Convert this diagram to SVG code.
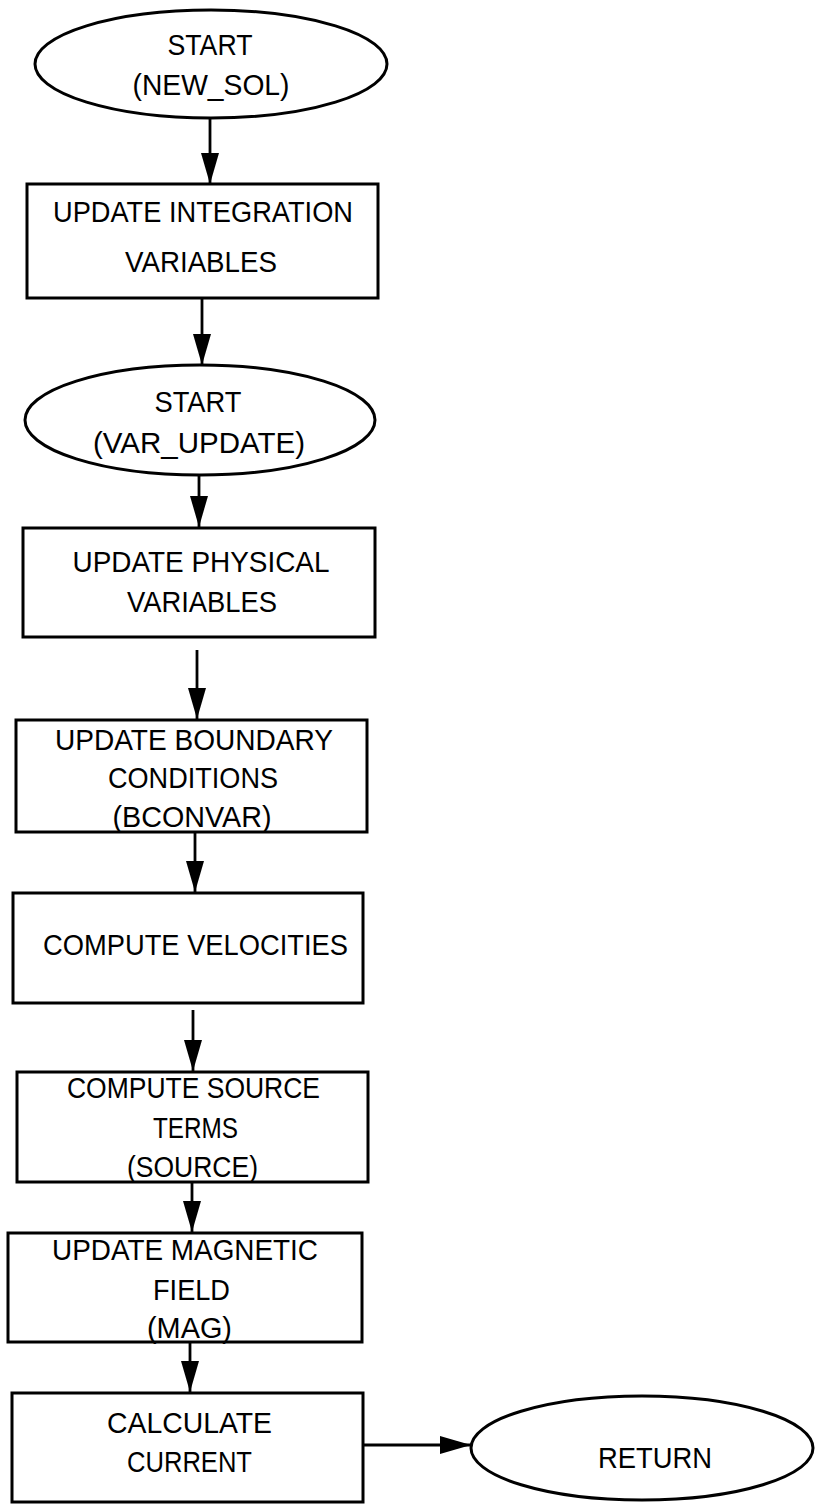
<svg xmlns="http://www.w3.org/2000/svg" width="815" height="1504" viewBox="0 0 815 1504">
<style>
.shape{fill:#fff;stroke:#000;stroke-width:3}
.lbl{font-family:"Liberation Sans",Arial,sans-serif;font-size:30px;fill:#000;text-anchor:middle}
.conn{stroke:#000;stroke-width:2.8;fill:none;marker-end:url(#ah)}
</style>
<defs>
<marker id="ah" markerUnits="userSpaceOnUse" markerWidth="32" markerHeight="20" refX="31" refY="9" orient="auto" viewBox="0 0 32 18">
<path d="M0,0 L31,9 L0,18 z" fill="#000"/>
</marker>
</defs>
<rect width="815" height="1504" fill="#fff"/>
<g id="n1">
<ellipse class="shape" cx="211" cy="64" rx="176" ry="54"/>
<text class="lbl" x="210" y="55" textLength="85" lengthAdjust="spacingAndGlyphs">START</text>
<text class="lbl" x="211" y="95" textLength="157" lengthAdjust="spacingAndGlyphs">(NEW_SOL)</text>
</g>
<g id="n2">
<rect class="shape" x="27" y="184" width="351" height="114"/>
<text class="lbl" x="203" y="222" textLength="300" lengthAdjust="spacingAndGlyphs">UPDATE INTEGRATION</text>
<text class="lbl" x="201" y="272" textLength="152" lengthAdjust="spacingAndGlyphs">VARIABLES</text>
</g>
<g id="n3">
<ellipse class="shape" cx="200" cy="420" rx="175" ry="55"/>
<text class="lbl" x="198" y="412" textLength="87" lengthAdjust="spacingAndGlyphs">START</text>
<text class="lbl" x="199" y="453" textLength="212" lengthAdjust="spacingAndGlyphs">(VAR_UPDATE)</text>
</g>
<g id="n4">
<rect class="shape" x="23" y="528" width="352" height="109"/>
<text class="lbl" x="201" y="572" textLength="257" lengthAdjust="spacingAndGlyphs">UPDATE PHYSICAL</text>
<text class="lbl" x="202" y="612" textLength="150" lengthAdjust="spacingAndGlyphs">VARIABLES</text>
</g>
<g id="n5">
<rect class="shape" x="16" y="720" width="351" height="112"/>
<text class="lbl" x="194" y="750" textLength="278" lengthAdjust="spacingAndGlyphs">UPDATE BOUNDARY</text>
<text class="lbl" x="193" y="788" textLength="170" lengthAdjust="spacingAndGlyphs">CONDITIONS</text>
<text class="lbl" x="192" y="827" textLength="159" lengthAdjust="spacingAndGlyphs">(BCONVAR)</text>
</g>
<g id="n6">
<rect class="shape" x="13" y="893" width="350" height="110"/>
<text class="lbl" x="195.5" y="955" textLength="305" lengthAdjust="spacingAndGlyphs">COMPUTE VELOCITIES</text>
</g>
<g id="n7">
<rect class="shape" x="17" y="1072" width="351" height="110"/>
<text class="lbl" x="193.5" y="1098" textLength="253" lengthAdjust="spacingAndGlyphs">COMPUTE SOURCE</text>
<text class="lbl" x="195.5" y="1138" textLength="85" lengthAdjust="spacingAndGlyphs">TERMS</text>
<text class="lbl" x="192.5" y="1177" textLength="131" lengthAdjust="spacingAndGlyphs">(SOURCE)</text>
</g>
<g id="n8">
<rect class="shape" x="8" y="1233" width="354" height="109"/>
<text class="lbl" x="185" y="1260" textLength="266" lengthAdjust="spacingAndGlyphs">UPDATE MAGNETIC</text>
<text class="lbl" x="191.5" y="1300" textLength="77" lengthAdjust="spacingAndGlyphs">FIELD</text>
<text class="lbl" x="189.5" y="1338" textLength="85" lengthAdjust="spacingAndGlyphs">(MAG)</text>
</g>
<g id="n9">
<rect class="shape" x="12" y="1393" width="351" height="109"/>
<text class="lbl" x="189.5" y="1433" textLength="165" lengthAdjust="spacingAndGlyphs">CALCULATE</text>
<text class="lbl" x="189.5" y="1472" textLength="125" lengthAdjust="spacingAndGlyphs">CURRENT</text>
</g>
<g id="n10">
<ellipse class="shape" cx="642" cy="1448" rx="171" ry="52"/>
<text class="lbl" x="655" y="1468" textLength="114" lengthAdjust="spacingAndGlyphs">RETURN</text>
</g>
<g id="connectors">
<line class="conn" x1="210" y1="118" x2="210" y2="184"/>
<line class="conn" x1="202" y1="298" x2="202" y2="365"/>
<line class="conn" x1="199" y1="475" x2="199" y2="527"/>
<line class="conn" x1="197" y1="650" x2="197" y2="719"/>
<line class="conn" x1="195" y1="832" x2="195" y2="892"/>
<line class="conn" x1="193" y1="1010" x2="193" y2="1071"/>
<line class="conn" x1="192" y1="1182" x2="192" y2="1232"/>
<line class="conn" x1="190" y1="1342" x2="190" y2="1392"/>
<line class="conn" x1="363" y1="1445" x2="471" y2="1445"/>
</g>
</svg>
